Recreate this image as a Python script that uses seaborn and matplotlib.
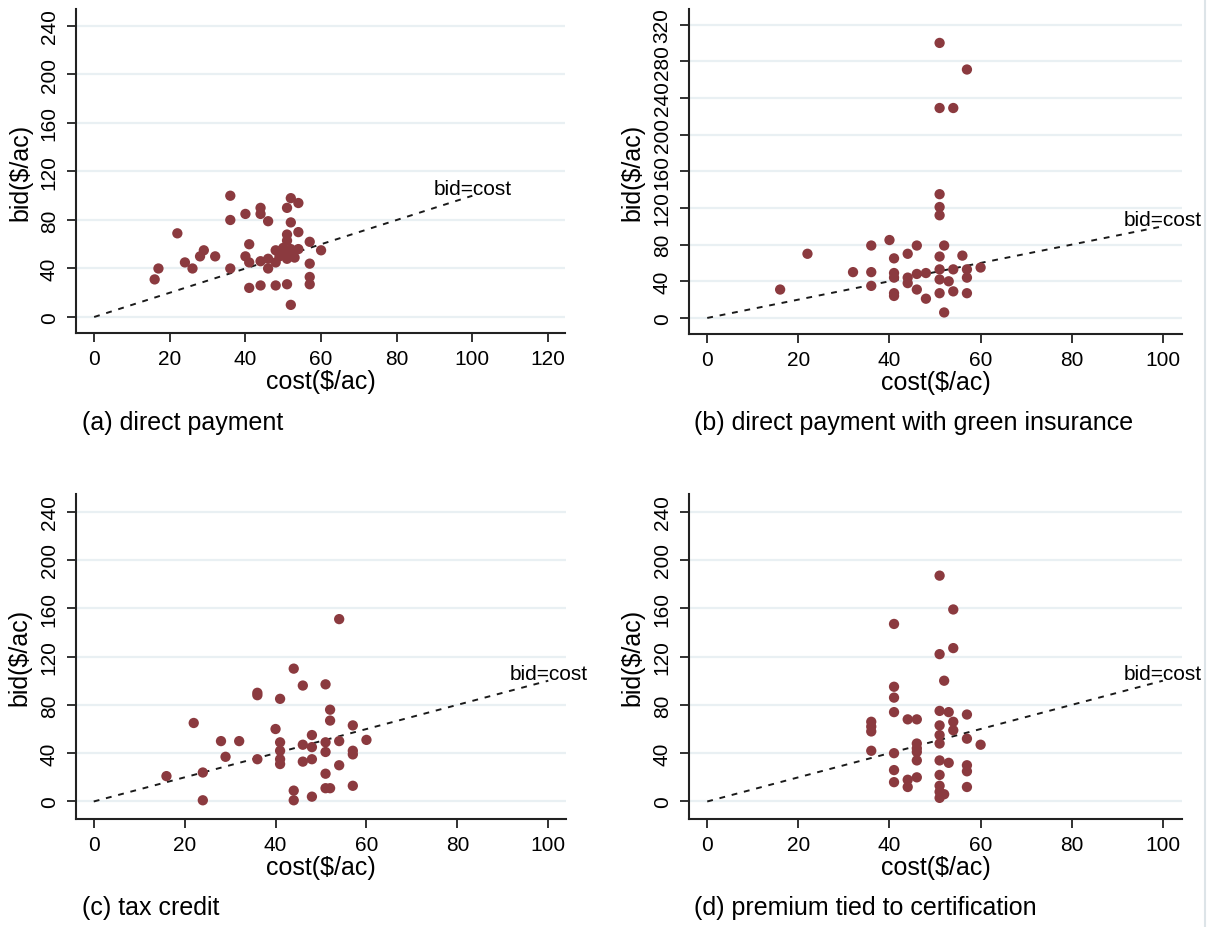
import matplotlib
matplotlib.use('Agg')
import matplotlib.pyplot as plt
import seaborn as sns
from matplotlib.lines import Line2D

# Bids and costs
cost_a = [36, 36, 40, 44, 44, 46, 52, 54, 51, 52, 54, 51, 51, 22, 17, 16, 24, 26, 28, 29,
          32, 36, 41, 40, 41, 44, 46, 46, 48, 48, 51, 52, 54, 53, 51, 57, 60, 57, 57, 57,
          41, 44, 48, 51, 52, 50, 52, 49]
bid_a = [100, 80, 85, 90, 85, 79, 98, 94, 90, 78, 70, 68, 63, 69, 40, 31, 45, 40, 50, 55,
         50, 40, 60, 50, 45, 46, 48, 40, 55, 45, 52, 56, 56, 49, 48, 62, 55, 44, 33, 27,
         24, 26, 26, 27, 10, 57, 52, 50]

cost_b = [51, 57, 51, 54, 51, 51, 51, 22, 16, 32, 36, 36, 36, 40, 41, 41, 41, 41, 41, 44,
          46, 44, 44, 46, 46, 48, 48, 51, 52, 51, 51, 51, 53, 54, 54, 56, 57, 57, 57, 60, 52]
bid_b = [300, 271, 229, 229, 135, 121, 112, 70, 31, 50, 79, 50, 35, 85, 65, 49, 44, 27, 24, 70,
         79, 44, 38, 48, 31, 49, 21, 67, 79, 53, 42, 27, 40, 53, 29, 68, 53, 44, 27, 55, 6]

cost_c = [54, 44, 46, 51, 36, 41, 52, 52, 22, 57, 40, 28, 32, 41, 41, 41, 41, 48, 46, 48,
          51, 51, 54, 60, 57, 57, 36, 29, 46, 48, 54, 16, 24, 51, 51, 52, 57, 44, 44, 48, 24, 36]
bid_c = [151, 110, 96, 97, 90, 85, 76, 67, 65, 63, 60, 50, 50, 49, 42, 35, 31, 55, 47, 45,
         49, 41, 50, 51, 42, 39, 35, 37, 33, 35, 30, 21, 24, 23, 11, 11, 13, 9, 1, 4, 1, 88]

cost_d = [51, 54, 41, 51, 54, 52, 41, 41, 41, 36, 36, 36, 44, 46, 51, 53, 51, 51, 51, 54,
          54, 57, 57, 60, 41, 46, 46, 46, 51, 53, 57, 57, 41, 44, 44, 46, 41, 51, 51, 51,
          52, 51, 57, 36, 46]
bid_d = [187, 159, 147, 122, 127, 100, 95, 86, 74, 66, 58, 42, 68, 68, 75, 74, 63, 55, 48, 66,
         59, 72, 52, 47, 40, 48, 41, 34, 34, 32, 30, 25, 26, 18, 12, 20, 16, 22, 13, 8,
         6, 3, 12, 62, 44]

# 45 degree reference line
line_x = [0, 100]
line_y = [0, 100]

captions = ['(a) direct payment', '(b) direct payment with green insurance',
            '(c) tax credit', '(d) premium tied to certification']

sns.set_theme(style='white')
plt.rcParams['font.family'] = ['Liberation Sans', 'DejaVu Sans']
# Stata draws all text in black
plt.rcParams['text.color'] = 'black'
plt.rcParams['axes.labelcolor'] = 'black'
plt.rcParams['xtick.labelcolor'] = 'black'
plt.rcParams['ytick.labelcolor'] = 'black'

W, H = 1214, 928
fig = plt.figure(figsize=(W / 100, H / 100), dpi=100)

marker_color = '#8b3a3f'
grid_color = '#e9f0f3'
spine_color = '#222222'


def px_axes(left, top, right, bottom):
    # Place an axes from pixel edges
    return fig.add_axes([left / W, 1 - bottom / H, (right - left) / W, (bottom - top) / H])


def draw_panel(ax, cost, bid, xticks, yticks, xlim, ylim):
    # Light horizontal grid at the y ticks
    for t in yticks:
        ax.axhline(t, color=grid_color, lw=1.6, zorder=0)

    # bid = cost line and its label
    ax.plot(line_x, line_y, color='#1a1a1a', lw=1.4, linestyle=(0, (3, 3.5)), zorder=2)
    ax.annotate('bid=cost', xy=(line_x[1], line_y[1]), xytext=(0, 5), textcoords='offset points',
                ha='center', va='center', fontsize=15)

    # The bids
    sns.scatterplot(x=cost, y=bid, ax=ax, color=marker_color, s=55, marker='o',
                    edgecolor='none', linewidth=0, zorder=3)

    ax.set_xticks(xticks)
    ax.set_yticks(yticks)
    ax.set_xlim(*xlim)
    ax.set_ylim(*ylim)

    # Only left and bottom axis lines, ticks outside
    for side in ['top', 'right']:
        ax.spines[side].set_visible(False)
    for side in ['left', 'bottom']:
        ax.spines[side].set_color(spine_color)
        ax.spines[side].set_linewidth(1.5)
    ax.tick_params(axis='both', direction='out', length=6.5, width=1.3, color=spine_color,
                   labelsize=15, left=True, bottom=True)
    ax.tick_params(axis='x', pad=5)
    ax.tick_params(axis='y', pad=6, labelrotation=90)
    for lab in ax.get_yticklabels():
        lab.set_va('center')

    ax.set_xlabel('cost($/ac)', fontsize=18)
    ax.set_ylabel('bid($/ac)', fontsize=18)
    ax.xaxis.set_label_coords(0.5, -0.112)
    ax.yaxis.set_label_coords(-0.09, 0.5)
    ax.set_facecolor('white')


ax_a = px_axes(76, 10, 565, 334)
draw_panel(ax_a, cost_a, bid_a, range(0, 121, 20), range(0, 241, 40), (-4.8, 124.5), (-13.2, 254))

ax_b = px_axes(689, 10, 1182, 335)
draw_panel(ax_b, cost_b, bid_b, range(0, 101, 20), range(0, 321, 40), (-4.0, 104.2), (-17.5, 337))

ax_c = px_axes(76, 495, 566, 820)
draw_panel(ax_c, cost_c, bid_c, range(0, 101, 20), range(0, 241, 40), (-3.9, 103.9), (-14.5, 254.6))

ax_d = px_axes(689, 495, 1182, 820)
draw_panel(ax_d, cost_d, bid_d, range(0, 101, 20), range(0, 241, 40), (-4.0, 104.2), (-14.5, 254.6))

# Panel captions under each graph
fig.text(82 / W, 1 - 423 / H, captions[0], fontsize=18, va='center', ha='left')
fig.text(694 / W, 1 - 423 / H, captions[1], fontsize=18, va='center', ha='left')
fig.text(82 / W, 1 - 908 / H, captions[2], fontsize=18, va='center', ha='left')
fig.text(694 / W, 1 - 908 / H, captions[3], fontsize=18, va='center', ha='left')

# Faint border on the right edge
fig.add_artist(Line2D([1205 / W, 1205 / W], [0, 1], color='#dde4e8', lw=1.5))

fig.savefig('out.png', dpi=100, facecolor='white')
